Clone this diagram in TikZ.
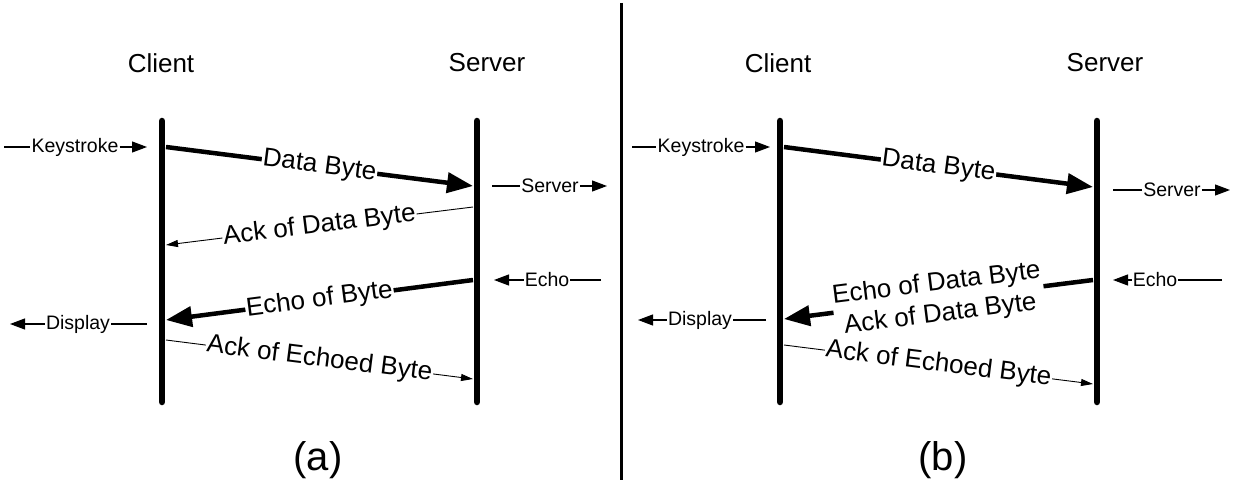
\documentclass[tikz,border=0pt]{standalone}
\usepackage{fontspec}
\setmainfont{Liberation Sans}
\usetikzlibrary{arrows.meta}
\begin{document}
\begin{tikzpicture}[x=1pt,y=-1pt,
  life/.style={line width=6.5pt,line cap=round},
  big/.style={font=\fontsize{26}{31}\selectfont},
  small/.style={font=\fontsize{19.5}{22}\selectfont,inner sep=1pt},
  thickmsg/.style={line width=4.5pt,-{Triangle[length=26pt,width=20pt]}},
  thinmsg/.style={line width=0.9pt,-{Triangle[length=12pt,width=7pt]}},
  lab/.style={big,fill=white,inner sep=1pt,sloped,align=center},
  side/.style={line width=1.1pt},
  sidearr/.style={side,-{Triangle[length=15pt,width=11pt]}},
  caption/.style={font=\fontsize{40}{44}\selectfont}
]
\useasboundingbox (0,0) rectangle (1233,484);

% divider
\coordinate (dT) at (621,3);
\coordinate (dB) at (621,480);
\draw[line width=3pt] (dT) -- (dB);

% ===== panel (a) =====
\node[big] (clA) at (161,63) {Client};
\node[big] (svA) at (487,63) {Server};
\coordinate (cAt) at (162,121); \coordinate (cAb) at (162,402);
\coordinate (sAt) at (477,121); \coordinate (sAb) at (477,402);
\draw[life] (cAt) -- (cAb);
\draw[life] (sAt) -- (sAb);

\coordinate (a1) at (166,147); \coordinate (a2) at (473,186);
\draw[thickmsg] (a1) -- node[lab] {Data Byte} (a2);
\coordinate (a3) at (473,207); \coordinate (a4) at (166,245);
\draw[thinmsg] (a3) -- node[lab] {Ack of Data Byte} (a4);
\coordinate (a5) at (473,280); \coordinate (a6) at (166,320);
\draw[thickmsg] (a5) -- node[lab] {Echo of Byte} (a6);
\coordinate (a7) at (166,340); \coordinate (a8) at (473,379);
\draw[thinmsg] (a7) -- node[lab] {Ack of Echoed Byte} (a8);

\node[small] (ksA) at (75,147) {Keystroke};
\coordinate (ksAl) at (4,147); \coordinate (ksAr) at (147,147);
\draw[side] (ksAl) -- (ksA);
\draw[sidearr] (ksA) -- (ksAr);

\node[small] (srA) at (550,186) {Server};
\coordinate (srAl) at (492,186); \coordinate (srAr) at (607,186);
\draw[side] (srAl) -- (srA);
\draw[sidearr] (srA) -- (srAr);

\node[small] (ecA) at (547,280) {Echo};
\coordinate (ecAl) at (494,280); \coordinate (ecAr) at (601,280);
\draw[side] (ecAr) -- (ecA);
\draw[sidearr] (ecA) -- (ecAl);

\node[small] (dpA) at (78,324) {Display};
\coordinate (dpAl) at (10,324); \coordinate (dpAr) at (147,324);
\draw[side] (dpAr) -- (dpA);
\draw[sidearr] (dpA) -- (dpAl);

\node[caption] (capA) at (318,460) {(a)};

% ===== panel (b) =====
\node[big] (clB) at (778,63) {Client};
\node[big] (svB) at (1105,63) {Server};
\coordinate (cBt) at (780,121); \coordinate (cBb) at (780,402);
\coordinate (sBt) at (1097,121); \coordinate (sBb) at (1097,402);
\draw[life] (cBt) -- (cBb);
\draw[life] (sBt) -- (sBb);

\coordinate (b1) at (784,147); \coordinate (b2) at (1093,187);
\draw[thickmsg] (b1) -- node[lab] {Data Byte} (b2);
\coordinate (b5) at (1093,280); \coordinate (b6) at (784,319);
\draw[thickmsg] (b5) -- node[lab] {Echo of Data Byte\\Ack of Data Byte} (b6);
\coordinate (b7) at (784,345); \coordinate (b8) at (1093,384);
\draw[thinmsg] (b7) -- node[lab] {Ack of Echoed Byte} (b8);

\node[small] (ksB) at (701,147) {Keystroke};
\coordinate (ksBl) at (632,147); \coordinate (ksBr) at (770,147);
\draw[side] (ksBl) -- (ksB);
\draw[sidearr] (ksB) -- (ksBr);

\node[small] (srB) at (1172,190) {Server};
\coordinate (srBl) at (1113,190); \coordinate (srBr) at (1230,190);
\draw[side] (srBl) -- (srB);
\draw[sidearr] (srB) -- (srBr);

\node[small] (ecB) at (1155,280) {Echo};
\coordinate (ecBl) at (1113,280); \coordinate (ecBr) at (1222,280);
\draw[side] (ecBr) -- (ecB);
\draw[sidearr] (ecB) -- (ecBl);

\node[small] (dpB) at (700,320) {Display};
\coordinate (dpBl) at (638,320); \coordinate (dpBr) at (766,320);
\draw[side] (dpBr) -- (dpB);
\draw[sidearr] (dpB) -- (dpBl);

\node[caption] (capB) at (943,460) {(b)};
\end{tikzpicture}
\end{document}
